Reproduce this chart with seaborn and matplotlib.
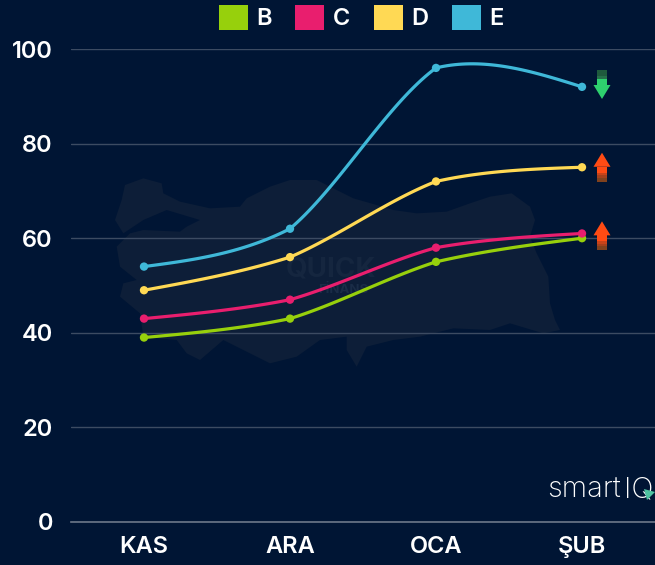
import numpy as np
import pandas as pd
import matplotlib.pyplot as plt
from matplotlib.patches import Patch, Polygon
import seaborn as sns

# chart data
months = ['KAS', 'ARA', 'OCA', 'ŞUB']
series_names = ['B', 'C', 'D', 'E']
b_values = [39, 43, 55, 60]
c_values = [43, 47, 58, 61]
d_values = [49, 56, 72, 75]
e_values = [54, 62, 96, 92]
y_ticks = [0, 20, 40, 60, 80, 100]
colors = ['#97D00C', '#E91E6E', '#FFD954', '#3FB8D8']

# trend arrows at the right of the last month
arrow_values = [92.5, 75, 60.5]
arrow_dirs = ['down', 'up', 'up']

BG = '#001534'
TEXT = '#FFFFFF'
FONT = 'Inter'

# turkey outline behind the lines, pixel positions of the picture
map_px = [(45,150),(65,90),(75,45),(130,25),(185,40),(190,70),(240,95),(330,115),(420,110),
          (440,85),(510,50),(570,30),(650,30),(700,55),(760,85),(830,105),(880,120),(950,130),
          (1040,125),(1110,100),(1170,80),(1235,70),(1290,110),(1305,150),(1290,200),(1310,250),
          (1345,320),(1350,400),(1365,450),(1380,480),(1330,490),(1230,460),(1170,480),(1060,475),
          (960,500),(880,510),(800,530),(770,590),(740,540),(740,500),(660,510),(590,560),(510,580),
          (450,550),(370,510),(300,570),(260,550),(230,510),(130,500),(120,430),(60,380),(70,340),
          (110,330),(60,290),(50,230),(90,190),(130,180),(240,185),(260,170),(300,150),(200,120),
          (130,150),(70,190)]


def spline(values, n=40):
    # the line has a small kink at each point: it comes in closer to the
    # previous step and goes out closer to the next one
    y = np.array(values, dtype=float)
    d = np.diff(y)
    last = len(d) - 1
    xs, ys = [], []
    for i in range(len(d)):
        m0 = 0.3 * d[i - 1] + 0.7 * d[i] if i > 0 else None
        m1 = 0.7 * d[i] + 0.3 * d[i + 1] if i < last else None
        if m0 is None:
            m0 = (3 * d[i] - m1) / 2
        if m1 is None:
            m1 = (3 * d[i] - m0) / 2
        t = np.linspace(0, 1, n)
        h = (2*t**3 - 3*t**2 + 1)*y[i] + (t**3 - 2*t**2 + t)*m0 + (-2*t**3 + 3*t**2)*y[i + 1] + (t**3 - t**2)*m1
        xs.extend(i + t)
        ys.extend(h)
    return xs, ys


points = pd.DataFrame({
    'pos': list(range(len(months))) * 4,
    'value': b_values + c_values + d_values + e_values,
    'series': np.repeat(series_names, len(months)),
})

curves = []
for name, vals in zip(series_names, [b_values, c_values, d_values, e_values]):
    cx, cy = spline(vals)
    curves.append(pd.DataFrame({'pos': cx, 'value': cy, 'series': name}))
curves = pd.concat(curves)

sns.set_style('white')
plt.rcParams['font.family'] = [FONT, 'DejaVu Sans']

fig = plt.figure(figsize=(6.55, 5.65), dpi=100, facecolor=BG)
ax = fig.add_axes([71 / 655, 1 - 522 / 565, 584 / 655, 473 / 565], facecolor=BG)
ax.set_zorder(1)
ax.patch.set_alpha(0)

# watermark
map_xy = [((100 + x / 3) / 655, 1 - (170 + y / 3) / 565) for x, y in map_px]
fig.add_artist(Polygon(map_xy, closed=True, transform=fig.transFigure, fc='#0D1E38', ec='none', zorder=0.5))
fig.text(331 / 655, 1 - 269 / 565, 'QUICK', color='#15263F', fontsize=20, fontweight='bold',
         ha='center', va='center', zorder=0.6)
fig.text(343 / 655, 1 - 290 / 565, 'FİNANS', color='#1A2C47', fontsize=9.5, fontweight='bold',
         ha='center', va='center', zorder=0.6)

palette = dict(zip(series_names, colors))
sns.lineplot(data=curves, x='pos', y='value', hue='series', palette=palette, hue_order=series_names,
             units='series', estimator=None, sort=False, linewidth=2.3, legend=False, ax=ax, zorder=3)
sns.scatterplot(data=points, x='pos', y='value', hue='series', palette=palette, hue_order=series_names,
                s=36, linewidth=0, legend=False, ax=ax, zorder=4)

ax.set_xlim(-0.5, 3.5)
ax.set_ylim(0, 100)
ax.set_xticks(range(len(months)))
ax.set_xticklabels(months)
ax.set_yticks(y_ticks)
ax.set_xlabel('')
ax.set_ylabel('')
ax.tick_params(axis='x', length=0, pad=10, labelsize=17, labelcolor=TEXT)
ax.tick_params(axis='y', length=0, pad=13, labelsize=17, labelcolor=TEXT)
for lab in ax.get_xticklabels() + ax.get_yticklabels():
    lab.set_fontweight('semibold')
ax.grid(axis='y', color='#3C4B62', linewidth=1)
ax.grid(axis='x', visible=False)
ax.set_axisbelow(True)
sns.despine(ax=ax, left=True, top=True, right=True)
ax.spines['bottom'].set_color('#6C7789')
ax.spines['bottom'].set_linewidth(1.2)
ax.spines['bottom'].set_zorder(1)

# arrows, sizes in pixels so they stay like the picture
to_y = 100 / 473
to_x = 4 / 584
arrow_x = 3 + 20 * to_x
for val, way in zip(arrow_values, arrow_dirs):
    s = 1 if way == 'up' else -1
    half_h = 14.5 * to_y
    tip = val + s * half_h
    neck = tip - s * 14 * to_y
    back = val - s * half_h
    shade = ['#FF4B14', '#C8431A', '#A4401C', '#80411D'] if way == 'up' else ['#2ED06E', '#26704A', '#1F5A3D', '#1F5A3D']
    # shaft in bands, bright next to the head and darker to the end
    stops = [neck, neck - s * 6 * to_y, neck - s * 8.5 * to_y, neck - s * 11 * to_y, back]
    for k in range(4):
        ax.fill_between([arrow_x - 4.7 * to_x, arrow_x + 4.7 * to_x], stops[k], stops[k + 1],
                        color=shade[k], linewidth=0, zorder=5)
    ax.fill([arrow_x - 8.5 * to_x, arrow_x + 8.5 * to_x, arrow_x], [neck, neck, tip],
            color=shade[0], linewidth=0, zorder=5)

# legend on top
handles = [Patch(facecolor=c, edgecolor='none') for c in colors]
fig.legend(handles, series_names, ncol=4, loc='upper left', bbox_to_anchor=(219 / 655, 1 - 5 / 565),
           frameon=False, borderpad=0, borderaxespad=0, handlelength=1.23, handleheight=1.23,
           handletextpad=0.35, columnspacing=1.0, labelcolor=TEXT,
           prop={'family': FONT, 'size': 17, 'weight': 'semibold'})

# logo, cut by the edge of the picture
fig.text(547 / 655, 1 - 497.5 / 565, 'smart', color=TEXT, fontsize=21, fontweight='light',
         ha='left', va='baseline', family=FONT)
fig.text(624 / 655, 1 - 497.5 / 565, 'IQ', color=TEXT, fontsize=21, fontweight='light',
         ha='left', va='baseline', family=FONT)
fig.add_artist(Polygon([(644 / 655, 1 - 489 / 565), (655 / 655, 1 - 492 / 565), (647 / 655, 1 - 500 / 565)],
                       closed=True, transform=fig.transFigure, fc='#4FC3A1', ec='none', zorder=6))

plt.savefig('out.png', dpi=100, facecolor=BG)
